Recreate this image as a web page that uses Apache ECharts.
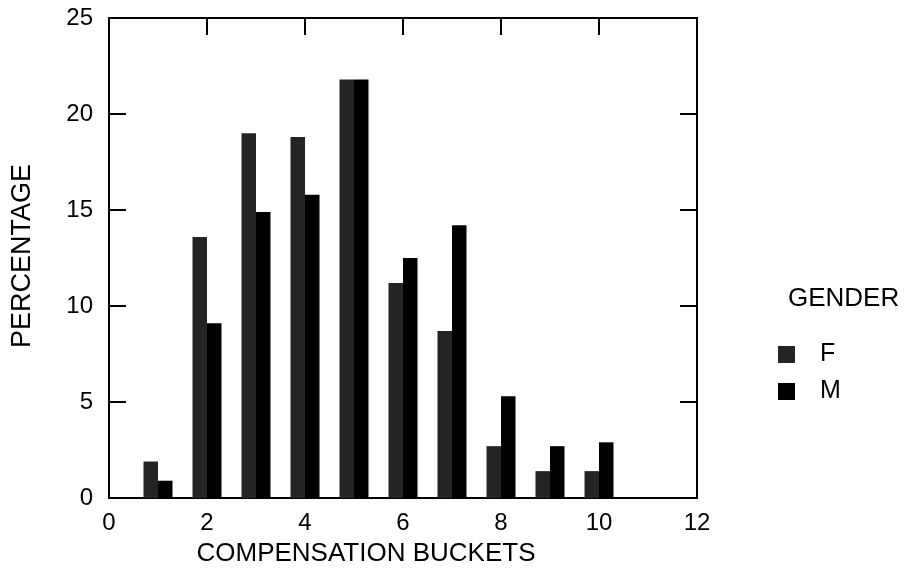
<!DOCTYPE html>
<html>
<head>
<meta charset="utf-8">
<script src="https://cdn.jsdelivr.net/npm/echarts@6/dist/echarts.min.js"></script>
<style>
  html, body { margin: 0; padding: 0; background: #fff; }
  #chart { width: 912px; height: 572px; }
</style>
</head>
<body>
<div id="chart"></div>
<script>
// Compensation bucket distribution by gender (percent of each group)
const buckets = [1, 2, 3, 4, 5, 6, 7, 8, 9, 10];
const femalePct = [1.9, 13.6, 19.0, 18.8, 21.8, 11.2, 8.7, 2.7, 1.4, 1.4];
const malePct   = [0.9, 9.1, 14.9, 15.8, 21.8, 12.5, 14.2, 5.3, 2.7, 2.9];
const genderNames = ['F', 'M'];
const xTicks = { min: 0, max: 12, step: 2 };
const yTicks = { min: 0, max: 25, step: 5 };

const FONT = '"Liberation Sans", Arial, sans-serif';
const INK = '#000';

const chart = echarts.init(document.getElementById('chart'), null, { renderer: 'canvas' });

const pairs = (vals) => buckets.map((b, i) => [b, vals[i]]);

// Closed frame: every side carries an axis line with inward ticks
const frameAxis = (extra) => Object.assign({
  type: 'value',
  axisLine: { show: true, onZero: false, lineStyle: { color: INK, width: 2 } },
  axisTick: { show: true, inside: true, length: 17, lineStyle: { color: INK, width: 2 } },
  splitLine: { show: false },
}, extra);

chart.setOption({
  animation: false,
  backgroundColor: '#fff',
  textStyle: { fontFamily: FONT, color: INK },
  grid: { left: 109, right: 215, top: 18, bottom: 74, containLabel: false },
  xAxis: [
    frameAxis({
      position: 'bottom', min: xTicks.min, max: xTicks.max, interval: xTicks.step,
      axisLabel: { color: INK, fontSize: 24, fontFamily: FONT, margin: 13 },
    }),
    frameAxis({
      position: 'top', min: xTicks.min, max: xTicks.max, interval: xTicks.step,
      axisLabel: { show: false },
    }),
  ],
  yAxis: [
    frameAxis({
      position: 'left', min: yTicks.min, max: yTicks.max, interval: yTicks.step,
      axisLabel: { color: INK, fontSize: 24, fontFamily: FONT, margin: 16 },
    }),
    frameAxis({
      position: 'right', min: yTicks.min, max: yTicks.max, interval: yTicks.step,
      axisLabel: { show: false },
    }),
  ],
  legend: {
    orient: 'vertical',
    left: 773, top: 336,
    padding: 5,
    icon: 'rect',
    itemWidth: 17, itemHeight: 17, itemGap: 10,
    textStyle: { fontSize: 25, lineHeight: 27, fontFamily: FONT, color: INK, padding: [0, 0, 0, 20] },
    data: genderNames,
  },
  graphic: [
    {
      type: 'text', left: 788, top: 286,
      style: { text: 'GENDER', font: '26px ' + FONT, fill: INK },
    },
    {
      type: 'text', x: 366, y: 554,
      style: { text: 'COMPENSATION BUCKETS', font: '26px ' + FONT, fill: INK,
               textAlign: 'center', textVerticalAlign: 'middle' },
    },
    {
      type: 'text', x: 23, y: 256, rotation: Math.PI / 2,
      style: { text: 'PERCENTAGE', font: '27px ' + FONT, fill: INK,
               textAlign: 'center', textVerticalAlign: 'middle' },
    },
  ],
  series: [
    {
      name: genderNames[0], type: 'bar', xAxisIndex: 0, yAxisIndex: 0,
      barWidth: 14.5, barGap: '0%',
      itemStyle: { color: '#242424' },
      data: pairs(femalePct),
    },
    {
      name: genderNames[1], type: 'bar', xAxisIndex: 0, yAxisIndex: 0,
      barWidth: 14.5, barGap: '0%',
      itemStyle: { color: '#000' },
      data: pairs(malePct),
    },
  ],
});
</script>
</body>
</html>
